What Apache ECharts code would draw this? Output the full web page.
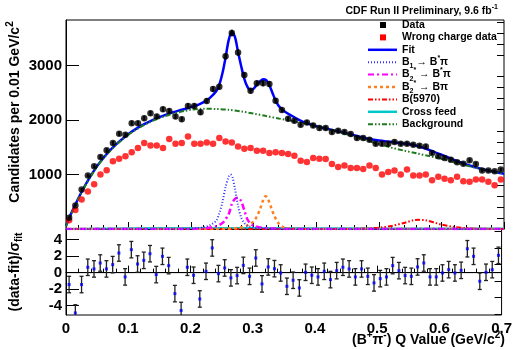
<!DOCTYPE html>
<html><head><meta charset="utf-8">
<script src="https://cdn.jsdelivr.net/npm/echarts@6/dist/echarts.min.js"></script>
<style>html,body{margin:0;padding:0;background:#fff}#c{width:515px;height:350px}</style>
</head><body><div id="c"></div>
<script>
// ---------- data ----------
const binWidth = 0.01;
const dataCounts = [208,433,726,982,1152,1323,1445,1580,1750,1731,
  1945,1945,2036,2128,2066,2201,2170,2066,2018,2261,
  2261,2146,2353,2572,2614,3175,3601,3243,2828,2541,
  2676,2676,2664,2358,2188,2024,1987,1914,1956,1901,
  1854,1854,1781,1804,1781,1744,1671,1671,1640,1567,
  1567,1567,1600,1567,1567,1548,1530,1517,1397,1335,
  1305,1274,1225,1201,1261,1196,1073,1073,1060,1091];
const wrongCharge = [159,347,543,690,820,1000,1079,1243,1290,1335,
  1408,1488,1580,1536,1536,1488,1653,1567,1580,1700,
  1567,1567,1590,1567,1671,1609,1590,1517,1475,1488,
  1439,1439,1397,1408,1397,1378,1347,1256,1232,1305,
  1292,1287,1196,1141,1165,1122,1122,1104,1165,1122,
  1000,1049,1075,1000,1091,982,982,1000,896,958,
  921,896,958,878,866,909,909,866,804,909];
const pulls = [-1.45,-4.9,-1.45,0.65,0.45,1.17,0.45,0.97,2.38,-0.52,
  2.79,1.05,1.49,2.3,-0.24,1.98,0.85,-2.55,-4.6,0.65,
  -0.32,-3.2,0.16,3.0,-0.12,0.57,-0.64,-0.36,0.88,-0.45,
  1.78,-1.37,0.69,0.48,-0.04,-1.66,-0.93,-1.86,0.04,-0.32,
  -0.52,0.16,-0.85,0.24,0.65,0.45,-0.52,0.45,-0.45,-1.25,
  -0.73,-0.52,0.85,0.24,-0.36,-0.45,0.69,1.17,-0.52,-0.52,
  -0.04,0.36,-0.04,0.28,2.9,1.98,-1.05,0.04,0.36,2.1];

const fitX = [0,0.005,0.01,0.015,0.02,0.03,0.04,0.05,0.06,0.07,0.08,0.09,0.10,0.11,0.12,0.13,0.14,0.15,0.16,0.17,0.18,0.19,0.20,0.21,0.22,0.23,0.24,0.245,0.25,0.255,0.26,0.265,0.27,0.275,0.28,0.285,0.29,0.295,0.30,0.305,0.31,0.315,0.32,0.325,0.33,0.335,0.34,0.345,0.35,0.36,0.37,0.38,0.39,0.40,0.42,0.44,0.46,0.48,0.50,0.52,0.54,0.56,0.58,0.60,0.62,0.64,0.66,0.68,0.70];
const fitY = [60,200,330,450,570,790,985,1160,1310,1440,1555,1655,1745,1825,1895,1955,2010,2060,2100,2140,2175,2205,2240,2275,2330,2410,2530,2650,2860,3150,3470,3620,3530,3250,2990,2760,2610,2550,2580,2650,2710,2750,2735,2640,2500,2360,2260,2200,2155,2085,2020,1965,1925,1890,1835,1780,1725,1665,1625,1600,1570,1530,1455,1365,1270,1185,1115,1060,1015];

const bkgX = [0,0.005,0.01,0.015,0.02,0.03,0.04,0.05,0.06,0.07,0.08,0.09,0.10,0.11,0.12,0.13,0.14,0.15,0.16,0.17,0.18,0.19,0.20,0.22,0.24,0.26,0.28,0.30,0.32,0.34,0.36,0.38,0.40,0.42,0.44,0.46,0.48,0.50,0.52,0.54,0.56,0.58,0.60,0.62,0.64,0.66,0.68,0.70];
const bkgY = [50,190,320,440,560,780,975,1150,1300,1430,1545,1645,1735,1812,1880,1940,1995,2040,2080,2115,2145,2170,2190,2210,2205,2190,2160,2120,2075,2030,1990,1945,1885,1830,1770,1700,1630,1560,1495,1440,1390,1340,1290,1225,1165,1110,1060,1015];

const b1X = [0,0.18,0.20,0.22,0.23,0.24,0.245,0.25,0.255,0.26,0.263,0.266,0.27,0.275,0.28,0.285,0.29,0.30,0.32,0.35,0.70];
const b1Y = [0,0,5,30,70,150,290,490,770,960,1000,950,740,420,210,110,60,30,10,0,0];

const b2sX = [0,0.20,0.22,0.24,0.25,0.255,0.26,0.265,0.27,0.275,0.28,0.285,0.29,0.295,0.30,0.31,0.33,0.36,0.70];
const b2sY = [0,0,10,50,110,180,270,460,555,575,510,340,175,100,60,30,10,0,0];

const b2X = [0,0.24,0.26,0.28,0.29,0.30,0.305,0.31,0.315,0.319,0.323,0.328,0.333,0.34,0.345,0.35,0.37,0.39,0.70];
const b2Y = [0,0,5,30,65,140,230,360,530,603,545,390,240,100,45,20,5,0,0];

const b5970X = [0,0.44,0.47,0.49,0.50,0.52,0.54,0.555,0.565,0.575,0.59,0.60,0.62,0.64,0.66,0.70];
const b5970Y = [0,0,5,15,25,55,110,160,168,160,115,80,40,15,5,0];

const crossX = [0,0.1,0.2,0.3,0.4,0.5,0.6,0.7];
const crossY = [0,15,20,20,15,12,10,8];

const yMajorTicks = [0,1000,2000,3000];
const yTickLabels = [1000,2000,3000];
const yMinorTicks = [200,400,600,800,1200,1400,1600,1800,2200,2400,2600,2800,3200,3400,3600,3800];
const pullTickLabels = [-4,-2,0,2,4];
const pullMinorTicks = [-5,-3,-1,1,3,5];

// ---------- chart ----------
const F = "'Liberation Sans', Arial, Helvetica, sans-serif";
const binCenters = dataCounts.map((_, i) => (i + 0.5) * binWidth);
const zip = (xs, ys) => xs.map((x, i) => [x, ys[i]]);

const chart = echarts.init(document.getElementById('c'), null, {renderer: 'canvas'});

const tickStyle = {color: '#000', width: 1};
const xAxisBase = {
  type: 'value', min: 0, max: 0.7, interval: 0.1,
  axisLine: {show: true, lineStyle: tickStyle},
  axisTick: {show: true, inside: true, length: 7, lineStyle: tickStyle},
  minorTick: {show: true, splitNumber: 5, length: 4, lineStyle: tickStyle},
  splitLine: {show: false}, minorSplitLine: {show: false}
};

function lineSeries(name, pts, color, width, dash, z) {
  return {
    name, type: 'line', xAxisIndex: 0, yAxisIndex: 0, data: pts,
    showSymbol: false, smooth: 0.3, silent: true, z: z || 2,
    lineStyle: {color, width, type: dash || 'solid'}, clip: true
  };
}

function rt(sz) {
  const s = Math.round(sz * 0.7);
  return {
    n: {fontSize: sz, fontWeight: 'bold', fontFamily: F, fill: '#000', lineHeight: sz + 5},
    sup: {fontSize: s, fontWeight: 'bold', fontFamily: F, fill: '#000', verticalAlign: 'top'},
    sub: {fontSize: s, fontWeight: 'bold', fontFamily: F, fill: '#000', verticalAlign: 'bottom'}
  };
}

const LF = 10.5;
const legendItems = [
  {kind: 'marker', color: '#000', text: '{n|Data}'},
  {kind: 'marker', color: '#ff0000', text: '{n|Wrong charge data}'},
  {kind: 'line', color: '#0000ff', width: 2.5, dash: null, text: '{n|Fit}'},
  {kind: 'line', color: '#3333ff', width: 2, dash: [1, 2], text: '{n|B}{sub|1}{n| → B}{sup|*}{n|π}'},
  {kind: 'line', color: '#ff00ff', width: 2, dash: [6, 3, 2, 3], text: '{n|B}{sub|2}{sup|*}{n| → B}{sup|*}{n|π}'},
  {kind: 'line', color: '#ff8020', width: 2.5, dash: [3, 3], text: '{n|B}{sub|2}{sup|*}{n| → Bπ}'},
  {kind: 'line', color: '#ff0000', width: 2, dash: [5, 2, 1.5, 2, 1.5, 2], text: '{n|B(5970)}'},
  {kind: 'line', color: '#00c8c8', width: 2.5, dash: null, text: '{n|Cross feed}'},
  {kind: 'line', color: '#1f7a1f', width: 2, dash: [5, 2, 1.5, 2, 1.5, 2], text: '{n|Background}'}
];
const graphics = [];
legendItems.forEach((it, k) => {
  const y = 25 + 12.4 * k;
  if (it.kind === 'marker') {
    graphics.push({type: 'rect', shape: {x: 380, y: y - 3, width: 6, height: 6}, style: {fill: it.color}, silent: true});
  } else {
    graphics.push({type: 'line', shape: {x1: 368, y1: y, x2: 397, y2: y},
      style: {stroke: it.color, lineWidth: it.width, lineDash: it.dash || null}, silent: true});
  }
  graphics.push({type: 'text', x: 402, y: y, silent: true,
    style: {text: it.text, rich: rt(LF), fontSize: LF, fontWeight: 'bold', fontFamily: F, fill: '#000', align: 'left', verticalAlign: 'middle'}});
});
// title
graphics.push({type: 'text', x: 498, y: 11, silent: true,
  style: {text: '{n|CDF Run II Preliminary, 9.6 fb}{sup|-1}', rich: rt(10.5), fontSize: 10.5, fontWeight: 'bold', fontFamily: F, fill: '#000', align: 'right', verticalAlign: 'middle'}});
// axis titles
graphics.push({type: 'text', x: 15, y: 112, rotation: Math.PI / 2, silent: true,
  style: {text: '{n|Candidates per 0.01 GeV/c}{sup|2}', rich: rt(14), fontSize: 14, fontWeight: 'bold', fontFamily: F, fill: '#000', align: 'center', verticalAlign: 'middle'}});
graphics.push({type: 'text', x: 15, y: 272, rotation: Math.PI / 2, silent: true,
  style: {text: '{n|(data-fit)/σ}{sub|fit}', rich: rt(14), fontSize: 14, fontWeight: 'bold', fontFamily: F, fill: '#000', align: 'center', verticalAlign: 'middle'}});
graphics.push({type: 'text', x: 505, y: 340, silent: true,
  style: {text: '{n|(B}{sup|+}{n|π}{sup|-}{n|) Q Value (GeV/c}{sup|2}{n|)}', rich: rt(14), fontSize: 14, fontWeight: 'bold', fontFamily: F, fill: '#000', align: 'right', verticalAlign: 'middle'}});

const plainNum = v => String(Math.round(v * 1000) / 1000);

const option = {
  animation: false,
  backgroundColor: '#fff',
  grid: [
    {left: 66, right: 11, top: 20, height: 209, show: true, borderColor: '#000', borderWidth: 1, backgroundColor: 'transparent'},
    {left: 66, right: 11, top: 229, height: 86, show: true, borderColor: '#000', borderWidth: 1, backgroundColor: 'transparent'}
  ],
  xAxis: [
    Object.assign({}, xAxisBase, {gridIndex: 0, axisLabel: {show: false}}),
    Object.assign({}, xAxisBase, {gridIndex: 1, axisLabel: {show: true, margin: 6, color: '#000', fontSize: 15, fontWeight: 'bold', fontFamily: F,
      formatter: v => String(Math.round(v * 10) / 10)}})
  ],
  yAxis: [
    {gridIndex: 0, type: 'value', min: 0, max: 3840,
      axisLine: {show: true, lineStyle: tickStyle},
      axisTick: {show: true, inside: true, length: 13, lineStyle: tickStyle, customValues: yMajorTicks},
      axisLabel: {show: true, margin: 4, color: '#000', fontSize: 15, fontWeight: 'bold', fontFamily: F, customValues: yTickLabels, formatter: plainNum},
      splitLine: {show: false}},
    {gridIndex: 0, type: 'value', min: 0, max: 3840,
      axisLine: {show: false},
      axisTick: {show: true, inside: true, length: 7, lineStyle: tickStyle, customValues: yMinorTicks},
      axisLabel: {show: false}, splitLine: {show: false}},
    {gridIndex: 1, type: 'value', min: -5.15, max: 5.3,
      axisLine: {show: true, lineStyle: tickStyle},
      axisTick: {show: true, inside: true, length: 13, lineStyle: tickStyle, customValues: pullTickLabels},
      axisLabel: {show: true, margin: 4, color: '#000', fontSize: 15, fontWeight: 'bold', fontFamily: F, customValues: pullTickLabels, formatter: plainNum},
      splitLine: {show: false}},
    {gridIndex: 1, type: 'value', min: -5.15, max: 5.3,
      axisLine: {show: false},
      axisTick: {show: true, inside: true, length: 7, lineStyle: tickStyle, customValues: pullMinorTicks},
      axisLabel: {show: false}, splitLine: {show: false}}
  ],
  graphic: graphics,
  series: [
    lineSeries('Cross feed', zip(crossX, crossY), '#00c8c8', 2, null, 2),
    lineSeries('B(5970)', zip(b5970X, b5970Y), '#ff0000', 2, [5, 2, 1.5, 2, 1.5, 2], 2),
    lineSeries('B2*->Bpi', zip(b2X, b2Y), '#ff8020', 2.5, [3, 3], 2),
    lineSeries('B2*->B*pi', zip(b2sX, b2sY), '#ff00ff', 2.5, [6, 3, 2, 3], 2),
    lineSeries('B1->B*pi', zip(b1X, b1Y), '#3333ff', 2, [1, 2], 2),
    lineSeries('Fit', zip(fitX, fitY), '#0000ff', 2.5, null, 3),
    lineSeries('Background', zip(bkgX, bkgY), '#1f7a1f', 2, [5, 2, 1.5, 2, 1.5, 2], 4),
    {name: 'Wrong charge data', type: 'scatter', xAxisIndex: 0, yAxisIndex: 0, z: 5, silent: true,
      data: zip(binCenters, wrongCharge), symbol: 'circle', symbolSize: 6.5, itemStyle: {color: '#ff0000'}},
    {name: 'Data errors', type: 'custom', xAxisIndex: 0, yAxisIndex: 0, z: 6, silent: true,
      data: zip(binCenters, dataCounts),
      renderItem: (params, api) => {
        const x = api.value(0), v = api.value(1), e = Math.sqrt(v);
        const p1 = api.coord([x, v + e]), p2 = api.coord([x, v - e]);
        return {type: 'line', shape: {x1: p1[0], y1: p1[1], x2: p2[0], y2: p2[1]}, style: {stroke: '#000', lineWidth: 2}};
      }},
    {name: 'Data', type: 'scatter', xAxisIndex: 0, yAxisIndex: 0, z: 7, silent: true,
      data: zip(binCenters, dataCounts), symbol: 'circle', symbolSize: 6.5, itemStyle: {color: '#000'}},
    // pull panel
    {name: 'zero', type: 'line', xAxisIndex: 1, yAxisIndex: 2, silent: true, z: 2,
      data: [[0, 0], [0.7, 0]], showSymbol: false, lineStyle: {color: '#000', width: 1}},
    {name: 'Pull errors', type: 'custom', xAxisIndex: 1, yAxisIndex: 2, z: 5, silent: true,
      data: zip(binCenters, pulls),
      renderItem: (params, api) => {
        const x = api.value(0), v = api.value(1);
        const lo = Math.max(v - 1, -5.15), hi = Math.min(v + 1, 5.3);
        const p1 = api.coord([x, hi]), p2 = api.coord([x, lo]);
        const ch = [{type: 'line', shape: {x1: p1[0], y1: p1[1], x2: p2[0], y2: p2[1]}, style: {stroke: '#222', lineWidth: 1.3}}];
        if (v + 1 <= 5.3) ch.push({type: 'line', shape: {x1: p1[0] - 2, y1: p1[1], x2: p1[0] + 2, y2: p1[1]}, style: {stroke: '#222', lineWidth: 1.3}});
        if (v - 1 >= -5.15) ch.push({type: 'line', shape: {x1: p2[0] - 2, y1: p2[1], x2: p2[0] + 2, y2: p2[1]}, style: {stroke: '#222', lineWidth: 1.3}});
        return {type: 'group', children: ch};
      }},
    {name: 'Pulls', type: 'scatter', xAxisIndex: 1, yAxisIndex: 2, z: 6, silent: true,
      data: zip(binCenters, pulls), symbol: 'rect', symbolSize: 3, itemStyle: {color: '#0000ff'}}
  ]
};
chart.setOption(option);
</script></body></html>
